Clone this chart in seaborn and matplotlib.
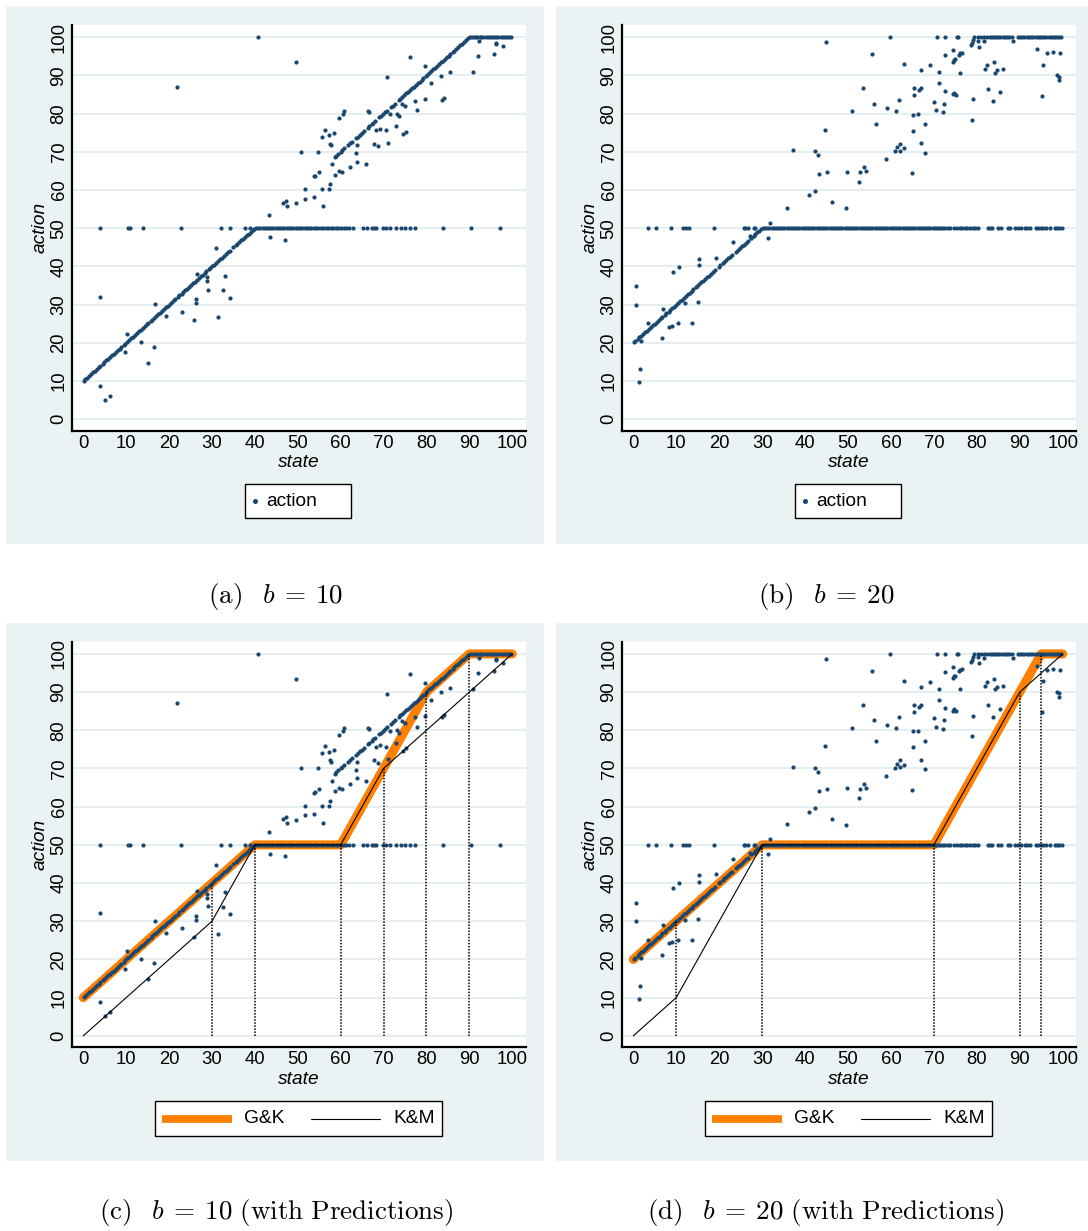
import matplotlib
matplotlib.use("Agg")
import numpy as np
import pandas as pd
import seaborn as sns
import matplotlib.pyplot as plt
from matplotlib.patches import Rectangle
from matplotlib.lines import Line2D

# ---------------- data: b = 10 ----------------
# observations on the rising branch below the pool (state, action)
b10_rise_low = [
    (0.1, 10.1), (0.5, 10.5), (0.9, 10.9), (1.4, 11.4), (1.8, 11.8), (2.3, 12.3), (2.7, 12.7),
    (3.2, 13.2), (3.6, 13.6), (4.0, 14.0), (4.5, 14.5), (4.9, 14.9), (5.4, 15.4), (5.8, 15.8),
    (6.3, 16.3), (6.7, 16.7), (7.1, 17.1), (7.6, 17.6), (8.0, 18.0), (8.5, 18.5), (8.9, 18.9),
    (9.4, 19.4), (9.8, 19.8), (10.3, 20.3), (10.7, 20.7), (11.2, 21.2), (11.6, 21.6), (12.1, 22.1),
    (12.5, 22.5), (13.0, 23.0), (13.4, 23.4), (13.9, 23.9), (14.3, 24.3), (14.8, 24.8), (15.2, 25.2),
    (15.7, 25.7), (16.1, 26.1), (16.6, 26.6), (17.0, 27.0), (17.5, 27.5), (17.9, 27.9), (18.4, 28.4),
    (18.8, 28.8), (19.3, 29.3), (19.7, 29.7), (20.2, 30.2), (20.6, 30.6), (21.1, 31.1), (21.5, 31.5),
    (22.0, 32.0), (22.4, 32.4), (22.9, 32.9), (23.3, 33.3), (23.8, 33.8), (24.2, 34.2), (24.7, 34.7),
    (25.1, 35.1), (25.6, 35.6), (26.0, 36.0), (26.5, 36.5), (26.9, 36.9), (27.4, 37.4), (27.8, 37.8),
    (28.3, 38.3), (28.7, 38.7), (29.2, 39.2), (29.6, 39.6), (30.1, 40.1), (30.5, 40.5), (31.0, 41.0),
    (31.4, 41.4), (31.9, 41.9), (32.3, 42.3), (32.8, 42.8), (33.2, 43.2), (33.7, 43.7), (34.1, 44.1),
    (35.0, 45.0), (35.5, 45.5), (35.9, 45.9), (36.4, 46.4), (36.8, 46.8), (37.3, 47.3), (37.7, 47.7),
    (38.2, 48.2), (38.6, 48.6), (39.1, 49.1), (39.5, 49.5), (39.9, 49.9),
]
# observations on the rising branch above the pool
b10_rise_high = [
    (58.6, 68.6), (59.0, 69.0), (59.5, 69.5), (60.0, 70.0), (60.4, 70.4), (60.9, 70.9),
    (61.8, 71.8), (62.2, 72.2), (62.7, 72.7), (63.6, 73.6), (64.0, 74.0), (64.5, 74.5),
    (64.9, 74.9), (65.4, 75.4), (66.3, 76.3), (66.7, 76.7), (67.2, 77.2), (67.6, 77.6),
    (68.1, 78.1), (69.0, 79.0), (69.4, 79.4), (69.9, 79.9), (70.3, 80.3), (70.8, 80.8),
    (71.7, 81.7), (72.1, 82.1), (72.6, 82.6), (73.5, 83.5), (73.9, 83.9), (74.4, 84.4),
    (74.8, 84.8), (75.3, 85.3), (75.7, 85.7), (76.2, 86.2), (76.6, 86.6), (77.1, 87.1),
    (77.5, 87.5), (78.0, 88.0), (78.4, 88.4), (78.9, 88.9), (79.3, 89.3), (79.8, 89.8),
    (80.2, 90.2), (80.7, 90.7), (81.1, 91.1), (81.6, 91.6), (82.0, 92.0), (82.5, 92.5),
    (82.9, 92.9), (83.4, 93.4), (83.8, 93.8), (84.3, 94.3), (84.7, 94.7), (85.2, 95.2),
    (85.6, 95.6), (86.1, 96.1), (86.5, 96.5), (87.0, 97.0), (87.4, 97.4), (87.9, 97.9),
    (88.3, 98.3), (88.8, 98.8), (89.2, 99.2), (89.7, 99.7),
]
# states whose action sits exactly at the pool level
b10_pool_level = 50
b10_pool_state = [
    3.8, 10.4, 11.0, 14.0, 22.7, 32.2, 34.2, 37.8, 38.8,
    40.3, 40.8, 41.3, 41.8, 42.3, 42.8, 43.3, 43.8, 44.3, 44.9, 45.4, 45.9, 46.4, 46.9,
    47.4, 48.0, 48.5, 49.0, 49.5, 50.0, 50.6, 51.1, 51.6, 52.1, 52.7, 53.2, 53.7, 54.3,
    54.8, 55.4, 56.0, 56.5, 57.1, 57.8, 58.3, 58.9, 59.4, 60.0, 60.7, 61.3, 62.0, 62.8,
    65.3, 66.1, 67.3, 67.8, 68.3, 69.9, 70.6, 71.6, 72.9, 74.0, 75.0, 76.2, 77.3,
    83.9, 90.5, 97.1,
]
# states whose action sits at the upper bound
b10_cap_level = 100
b10_cap_state = [
    40.7, 90.1, 90.6, 91.0, 91.5, 91.9, 92.4, 92.8, 93.3, 93.8, 94.3, 94.8, 95.3,
    95.8, 96.3, 96.8, 97.3, 97.8, 98.3, 98.8, 99.3, 99.8,
]
# remaining scattered observations
b10_other = [
    (49.5, 93.5), (21.9, 87.1), (43.4, 53.4), (43.6, 47.6), (47.0, 47.0), (46.6, 56.7),
    (47.3, 57.2), (47.5, 55.7), (49.5, 56.5), (30.9, 44.8), (26.4, 37.9), (28.8, 37.2),
    (28.9, 36.2), (29.0, 33.9), (33.0, 37.6), (32.6, 33.8), (34.2, 31.8), (31.5, 26.7),
    (26.2, 31.5), (26.2, 30.3), (25.8, 25.9), (23.0, 28.2), (19.2, 27.0), (16.7, 30.2),
    (16.6, 19.0), (15.0, 14.8), (13.5, 20.1), (10.2, 22.3), (9.7, 17.6), (3.9, 32.1),
    (4.0, 8.8), (5.0, 5.1), (6.2, 6.2),
    (50.8, 70.0), (54.8, 70.0), (51.8, 60.2), (51.8, 57.7), (53.7, 58.1), (56.0, 55.7),
    (55.6, 60.2), (57.4, 60.2), (57.5, 61.5), (53.7, 63.6), (54.1, 63.8), (54.9, 64.7),
    (55.7, 74.0), (56.4, 75.8), (57.4, 74.3), (57.5, 72.1), (57.8, 71.7), (58.4, 74.9),
    (59.6, 78.9), (60.5, 79.9), (60.8, 80.7), (58.1, 66.7), (58.6, 64.0), (59.6, 65.0),
    (60.4, 64.6), (62.2, 65.9), (63.6, 69.7), (63.8, 71.8), (63.8, 67.4), (66.0, 66.7),
    (66.3, 80.7), (66.5, 80.4), (67.7, 72.1), (68.7, 71.5), (68.2, 75.6), (69.1, 76.1),
    (70.6, 75.6), (71.0, 72.4), (70.8, 89.6), (71.4, 79.8), (72.9, 76.8), (73.2, 80.0),
    (73.5, 79.4), (74.6, 74.6), (75.2, 75.3), (74.4, 82.5), (74.9, 82.0), (76.1, 94.8),
    (77.4, 83.4), (77.7, 80.9), (79.7, 83.7), (79.6, 92.4), (81.0, 87.9), (83.4, 89.9),
    (85.6, 91.0), (83.6, 83.6), (84.2, 84.0), (90.8, 90.8), (92.0, 95.1), (95.7, 95.6),
    (96.2, 98.3), (97.8, 97.7), (92.2, 99.0), (96.3, 98.6),
]

# ---------------- data: b = 20 ----------------
b20_rise = [
    (0.1, 20.1), (0.5, 20.5), (1.0, 21.0), (1.4, 21.4), (1.9, 21.9), (2.3, 22.3), (2.8, 22.8),
    (3.2, 23.2), (3.7, 23.7), (4.1, 24.1), (4.6, 24.6), (5.0, 25.0), (5.5, 25.5), (5.9, 25.9),
    (6.4, 26.4), (6.8, 26.8), (7.3, 27.3), (7.7, 27.7), (8.2, 28.2), (8.6, 28.6), (9.1, 29.1),
    (9.5, 29.5), (10.0, 30.0), (10.4, 30.4), (10.9, 30.9), (11.3, 31.3), (11.8, 31.8),
    (12.2, 32.2), (12.7, 32.7), (13.1, 33.1), (13.6, 33.6), (14.0, 34.0), (14.5, 34.5),
    (14.9, 34.9), (15.4, 35.4), (15.8, 35.8), (16.3, 36.3), (16.7, 36.7), (17.2, 37.2),
    (17.6, 37.6), (18.1, 38.1), (18.5, 38.5), (19.0, 39.0), (19.9, 39.9), (20.3, 40.3),
    (20.8, 40.8), (21.2, 41.2), (21.7, 41.7), (22.1, 42.1), (22.6, 42.6), (23.0, 43.0),
    (23.9, 43.9), (24.4, 44.4), (24.8, 44.8), (25.3, 45.3), (25.7, 45.7), (26.2, 46.2),
    (26.6, 46.6), (27.5, 47.5), (28.0, 48.0), (28.4, 48.4), (28.9, 48.9), (29.3, 49.3),
    (29.8, 49.8),
]
b20_pool_level = 50
b20_pool_state = [
    3.5, 5.3, 8.7, 11.5, 12.3, 13.0, 18.8, 25.7, 26.0, 26.8, 28.1, 28.4,
    30.2, 30.7, 31.2, 31.7, 32.2, 32.7, 33.2, 33.7, 34.2, 34.7, 35.2, 35.7, 36.2, 36.7,
    37.2, 37.7, 38.2, 38.7, 39.2, 39.7, 40.2, 40.7, 41.2, 41.7, 42.2, 42.7, 43.2, 43.7,
    44.2, 44.7, 45.2, 45.7, 46.2, 46.7, 47.2, 47.7, 48.2, 48.7, 49.2, 49.7, 50.2, 50.7,
    51.2, 51.7, 52.2, 52.7, 53.2, 53.7, 54.2, 54.7, 55.2, 55.7, 56.2, 56.7, 57.2, 57.7,
    58.2, 58.7, 59.2, 59.7, 60.2, 60.7, 61.2, 61.7, 62.2, 62.7, 63.2, 63.7, 64.2, 64.7,
    65.2, 65.7, 66.2, 66.7, 67.2, 67.7, 68.2, 68.7, 69.2, 69.7, 70.2, 70.7, 71.2, 71.7,
    72.2, 72.7, 73.2, 73.7,
    74.7, 75.4, 76.0, 76.6, 77.3, 77.8, 78.5, 79.1, 79.5, 80.3, 82.6, 83.1, 83.6, 85.0,
    85.6, 87.3, 87.8, 89.0, 89.7, 90.4, 91.2, 91.6, 92.3, 93.9, 94.3, 94.9, 95.3, 96.0,
    97.1, 98.2, 98.6, 99.1, 99.8,
]
b20_cap_level = 100
b20_cap_state = [
    59.8, 70.7, 72.5, 75.4, 75.7, 79.4, 80.2, 80.9, 81.6, 82.3, 83.0, 83.5, 84.0, 84.5,
    85.0, 85.5, 86.0, 86.5, 87.0, 87.6, 88.1, 89.6, 90.1, 90.6, 91.1, 91.6, 92.2, 92.7,
    93.2, 93.7, 94.2, 94.7, 95.2, 95.7, 96.2, 96.7, 97.2, 97.7, 98.2, 98.7, 99.2, 99.7,
]
b20_other = [
    (44.8, 98.8), (0.6, 34.8), (0.6, 30.0), (1.6, 13.1), (1.4, 9.7), (1.9, 20.5),
    (3.5, 25.2), (6.7, 21.2), (7.0, 28.9), (8.3, 24.2), (8.9, 24.5), (10.5, 25.2),
    (13.6, 25.2), (9.3, 38.6), (10.6, 39.9), (12.1, 30.3), (15.0, 30.6), (15.2, 42.0),
    (15.3, 40.4), (19.2, 42.3), (23.3, 46.3), (27.1, 48.0), (27.4, 47.5), (31.3, 47.5),
    (31.8, 51.5), (35.7, 55.4), (37.3, 70.5), (41.0, 58.7), (42.4, 70.1), (43.0, 69.2),
    (42.4, 59.7), (43.2, 64.1), (44.7, 75.8), (45.1, 64.7), (46.3, 56.9), (49.5, 55.2),
    (49.8, 64.8), (52.7, 64.6), (52.5, 62.2), (53.8, 65.9), (54.2, 65.0), (51.0, 80.7),
    (53.5, 86.6), (55.7, 95.6), (56.0, 82.6), (56.6, 77.3), (58.9, 68.1), (59.0, 81.5),
    (60.9, 70.1), (61.4, 71.3), (62.2, 72.1), (62.1, 70.3), (63.0, 71.0), (61.2, 80.7),
    (61.9, 83.6), (63.0, 92.9), (65.0, 64.5), (65.1, 75.5), (65.2, 79.7), (65.3, 84.9),
    (65.4, 86.7), (66.2, 79.9), (66.6, 86.2), (67.1, 86.7), (66.9, 91.4), (67.1, 72.2),
    (67.9, 69.8), (67.9, 77.2), (69.0, 92.7), (70.0, 83.1), (70.6, 80.9), (71.2, 88.0),
    (71.3, 90.8), (72.2, 80.4), (72.3, 82.6), (72.5, 85.8), (72.6, 95.3), (74.5, 93.6),
    (74.8, 94.1), (75.0, 94.3), (74.4, 96.6), (74.4, 85.1), (74.8, 85.5), (75.2, 85.0),
    (75.8, 95.4), (76.1, 95.8), (76.5, 96.0), (76.2, 90.7), (78.6, 98.0), (78.9, 98.5),
    (79.2, 99.3), (78.9, 78.4), (79.2, 83.8), (80.2, 99.1), (80.4, 97.5), (81.6, 99.0),
    (81.9, 91.6), (82.3, 92.7), (82.6, 86.5), (83.8, 83.4), (84.1, 93.4), (84.3, 90.7),
    (84.7, 91.3), (85.3, 85.7), (86.2, 91.6), (88.5, 99.0), (94.1, 96.8), (95.2, 84.7),
    (95.3, 92.8), (96.3, 95.8), (97.8, 96.1), (99.4, 95.8), (98.7, 90.0), (99.2, 89.7),
    (99.2, 88.8),
]

# ---------------- predicted strategies ----------------
gk10_state = [0, 40, 60, 70, 80, 90, 100]
gk10_action = [10, 50, 50, 70, 90, 100, 100]
km10_state = [0, 30, 40, 60, 70, 100]
km10_action = [0, 30, 50, 50, 70, 100]
cut10 = [30, 40, 60, 70, 80, 90]

gk20_state = [0, 30, 70, 90, 95, 100]
gk20_action = [20, 50, 50, 90, 100, 100]
km20_state = [0, 10, 30, 70, 90, 100]
km20_action = [0, 10, 50, 50, 90, 100]
cut20 = [10, 30, 70, 90, 95]

captions = [
    r"$\mathrm{(a)}\ \ \,b\:=\:10$",
    r"$\mathrm{(b)}\ \ \,b\:=\:20$",
    r"$\mathrm{(c)}\ \ \,b\:=\:10\ \mathrm{(with\ Predictions)}$",
    r"$\mathrm{(d)}\ \ \,b\:=\:20\ \mathrm{(with\ Predictions)}$",
]


def build_frame(rises, pool_state, pool_level, cap_state, cap_level, other):
    parts = []
    for pts in rises + [other]:
        parts.append(pd.DataFrame(pts, columns=["state", "action"]))
    parts.append(pd.DataFrame({"state": pool_state, "action": pool_level}))
    parts.append(pd.DataFrame({"state": cap_state, "action": cap_level}))
    return pd.concat(parts, ignore_index=True)


df10 = build_frame([b10_rise_low, b10_rise_high], b10_pool_state, b10_pool_level,
                   b10_cap_state, b10_cap_level, b10_other)
df20 = build_frame([b20_rise], b20_pool_state, b20_pool_level,
                   b20_cap_state, b20_cap_level, b20_other)

# ---------------- styling ----------------
sns.set_theme(style="white")
plt.rcParams["font.family"] = ["Liberation Sans", "DejaVu Sans"]
plt.rcParams["mathtext.fontset"] = "cm"

W, H = 1088, 1231
BG = "#eaf2f3"
NAVY = "#1a476f"
ORANGE = "#ff8000"
GRID = "#e6eef0"
TICK_FS = 13.3
LABEL_FS = 13.8

fig = plt.figure(figsize=(W / 100, H / 100), dpi=100)
fig.patch.set_facecolor("white")


def fx(x):
    return x / W


def fy(y):
    return 1 - y / H


def fig_rect(x0, y0, x1, y1, **kw):
    r = Rectangle((fx(x0), fy(y1)), (x1 - x0) / W, (y1 - y0) / H,
                  transform=fig.transFigure, **kw)
    fig.patches.append(r)
    return r


# graph backgrounds (drawn beneath the axes)
for x0, y0, x1, y1 in [(6, 6, 544, 544), (556, 6, 1094, 544),
                       (6, 622.7, 544, 1160.7), (556, 622.7, 1094, 1160.7)]:
    fig_rect(x0, y0, x1, y1, facecolor=BG, edgecolor="none", zorder=-5)


def make_axes(left, top, right, bottom):
    return fig.add_axes([fx(left), fy(bottom), (right - left) / W, (bottom - top) / H])


def style_axes(ax):
    ax.set_facecolor("white")
    ax.set_xlim(-2.7, 103.1)
    ax.set_ylim(-3.0, 103.2)
    ax.set_xticks(range(0, 101, 10))
    ax.set_yticks(range(0, 101, 10))
    ax.yaxis.grid(True, color=GRID, lw=1.5)
    ax.xaxis.grid(False)
    ax.set_axisbelow(True)
    for s in ["top", "right"]:
        ax.spines[s].set_visible(False)
    for s in ["left", "bottom"]:
        ax.spines[s].set_color("black")
        ax.spines[s].set_linewidth(1.6)
    ax.tick_params(axis="both", length=0, labelsize=TICK_FS, colors="black")
    ax.tick_params(axis="x", pad=3.0)
    ax.tick_params(axis="y", pad=3.0, labelrotation=90)
    for lab in ax.get_yticklabels():
        lab.set_va("center")


boxes = [(71.7, 25, 525.5, 430.7), (621.7, 25, 1076, 430.7),
         (71.7, 641.7, 525.5, 1047.3), (621.7, 641.7, 1076, 1047.3)]
axes = [make_axes(*b) for b in boxes]
frames = [df10, df20, df10, df20]
preds = [None, None,
         (gk10_state, gk10_action, km10_state, km10_action, cut10),
         (gk20_state, gk20_action, km20_state, km20_action, cut20)]

for ax, df, pred in zip(axes, frames, preds):
    style_axes(ax)
    if pred is not None:
        gs, ga, ks, ka, cuts = pred
        sns.lineplot(x=gs, y=ga, ax=ax, color=ORANGE, lw=6.5, sort=False, estimator=None,
                     solid_capstyle="round", solid_joinstyle="round", zorder=2)
    sns.scatterplot(data=df, x="state", y="action", ax=ax, s=9, color=NAVY,
                    linewidth=0, zorder=3, legend=False)
    if pred is not None:
        sns.lineplot(x=ks, y=ka, ax=ax, color="black", lw=0.8, sort=False,
                     estimator=None, zorder=4)
        tops = np.interp(cuts, gs, ga)
        ax.vlines(cuts, 0, tops, colors="black", linestyles=(0, (1, 1)), lw=1.1, zorder=4)
    ax.set_xlabel("state", style="italic", fontsize=LABEL_FS, labelpad=1.5, color="black")
    ax.set_ylabel("action", style="italic", fontsize=LABEL_FS, labelpad=1.5, color="black")

# legends (boxes below each graph)
for dx in (0, 550):
    fig_rect(244.7 + dx, 483.7, 351.3 + dx, 518.3, facecolor="white",
             edgecolor="black", lw=1.0, zorder=5)
    fig.lines.append(Line2D([fx(254.5 + dx)], [fy(501)], transform=fig.transFigure,
                            marker="o", ms=2.6, color=NAVY, lw=0, zorder=6))
    fig.text(fx(266 + dx), fy(501), "action", fontsize=LABEL_FS, va="center", ha="left",
             color="black", zorder=6)

    fig_rect(154.8 + dx, 1101.3, 442.3 + dx, 1136.3, facecolor="white",
             edgecolor="black", lw=1.0, zorder=5)
    fig.lines.append(Line2D([fx(162 + dx), fx(231.5 + dx)], [fy(1118.8)] * 2,
                            transform=fig.transFigure, color=ORANGE, lw=5.6,
                            solid_capstyle="butt", zorder=6))
    fig.text(fx(244 + dx), fy(1118.8), "G&K", fontsize=LABEL_FS, va="center", ha="left",
             color="black", zorder=6)
    fig.lines.append(Line2D([fx(311 + dx), fx(380 + dx)], [fy(1118.8)] * 2,
                            transform=fig.transFigure, color="black", lw=0.8, zorder=6))
    fig.text(fx(393 + dx), fy(1118.8), "K&M", fontsize=LABEL_FS, va="center", ha="left",
             color="black", zorder=6)

# sub-captions
for txt, (cx, cy) in zip(captions, [(276, 596), (826, 596), (276, 1213), (826, 1213)]):
    fig.text(fx(cx), fy(cy), txt, fontsize=19.5, ha="center", va="center", color="black")

fig.savefig("out.png", dpi=100, facecolor="white")
